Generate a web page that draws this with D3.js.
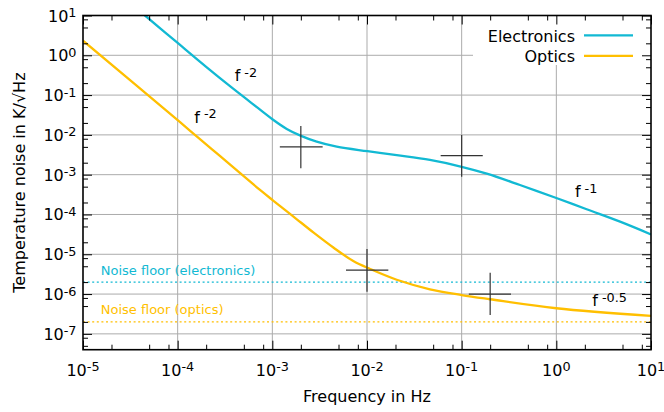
<!DOCTYPE html>
<html><head><meta charset="utf-8">
<script src="https://cdn.jsdelivr.net/npm/d3@7"></script>
<style>html,body{margin:0;padding:0;background:#fff}svg{display:block;font-family:"DejaVu Sans",sans-serif}</style>
</head><body><svg id="c" width="664" height="412"></svg>
<script>
// ---- data ----
const xMajor = [1e-5, 1e-4, 1e-3, 1e-2, 1e-1, 1e0, 1e1];
const xExp = ["-5", "-4", "-3", "-2", "-1", "0", "1"];
const yMajor = [1e-7, 1e-6, 1e-5, 1e-4, 1e-3, 1e-2, 1e-1, 1e0, 1e1];
const yExp = ["-7", "-6", "-5", "-4", "-3", "-2", "-1", "0", "1"];
const minorMult = [2, 5, 8];

const elecFreq = [3.5e-5, 4.52e-5, 1e-4, 2.0e-4, 3.57e-4, 5.81e-4, 1.01e-3, 1.42e-3, 2.01e-3, 2.94e-3, 4.79e-3, 1.01e-2, 2.06e-2, 4.62e-2, 0.1, 0.184, 0.413, 1.0, 2.09, 4.71, 10];
const elecVal  = [16.7, 10, 2.04, 0.513, 0.168, 0.0679, 0.0243, 0.0141, 9.44e-3, 6.76e-3, 5.06e-3, 3.89e-3, 3.09e-3, 2.34e-3, 1.58e-3, 1.06e-3, 5.5e-4, 2.6e-4, 1.35e-4, 6.6e-5, 3.16e-5];

const optFreq = [1e-5, 1.06e-4, 1.72e-4, 7.41e-4, 1.02e-3, 1.66e-3, 2.71e-3, 4.41e-3, 7.16e-3, 1.08e-2, 2.06e-2, 4.62e-2, 0.1, 0.199, 1.0, 10];
const optVal  = [2.33, 0.0208, 7.85e-3, 4.13e-4, 2.24e-4, 9.0e-5, 3.55e-5, 1.48e-5, 6.76e-6, 4.27e-6, 2.29e-6, 1.32e-6, 9.44e-7, 7.41e-7, 4.4e-7, 2.82e-7];

const floorElec = 2e-6;
const floorOpt = 2e-7;

// crosshair measurement points: centre f, f low/high, T, T low/high
const errF   = [2e-3, 0.1, 0.01, 0.2];
const errFlo = [1.2e-3, 0.06, 6e-3, 0.119];
const errFhi = [3.4e-3, 0.167, 1.68e-2, 0.332];
const errT   = [5e-3, 3e-3, 4e-6, 1e-6];
const errTlo = [1.45e-3, 8.9e-4, 1.15e-6, 3.0e-7];
const errThi = [1.68e-2, 1e-2, 1.36e-5, 3.45e-6];

// slope annotations
const annF   = [4e-4, 1.5e-4, 1.57, 2.4];
const annT   = [0.22, 0.02, 2.7e-4, 5.0e-7];
const annExp = ["-2", "-2", "-1", "-0.5"];

const floorLabels = ["Noise floor (electronics)", "Noise floor (optics)"];
const floorLabelF = 1.54e-5;
const floorLabelT = [3.0e-6, 3.1e-7];

const seriesNames = ["Electronics", "Optics"];
const CYAN = "#12b9d3", GOLD = "#ffbf00";

// ---- chart ----
const svg = d3.select("#c");
const L = 83, R = 651, T = 15.5, B = 349.7;
const x = d3.scaleLog().domain([1e-5, 10]).range([L, R]);
const y = d3.scaleLog().domain([4e-8, 10]).range([B, T]);

const minors = (majors) => {
  const out = [];
  majors.forEach(m => minorMult.forEach(k => out.push(m * k)));
  return out;
};
const xMin = minors(xMajor).filter(v => v > 1e-5 && v < 10);
const yMin = minors([1e-8].concat(yMajor)).filter(v => v > 4e-8 && v < 10);

// grid
const grid = svg.append("g").attr("stroke", "#ababab").attr("stroke-width", 1);
grid.selectAll("line.gx").data(xMajor.slice(1, -1)).join("line")
  .attr("x1", d => x(d)).attr("x2", d => x(d)).attr("y1", T).attr("y2", B);
grid.selectAll("line.gy").data(yMajor.slice(0, -1)).join("line")
  .attr("x1", L).attr("x2", R).attr("y1", d => y(d)).attr("y2", d => y(d));

// legend background box (covers grid)
svg.append("rect").attr("x", 473).attr("y", T).attr("width", R - 473).attr("height", 65 - T).attr("fill", "#fff");

// clip
svg.append("clipPath").attr("id", "clip").append("rect").attr("x", L).attr("y", T).attr("width", R - L).attr("height", B - T);
const plot = svg.append("g").attr("clip-path", "url(#clip)");

// noise floors
[[floorElec, CYAN], [floorOpt, GOLD]].forEach(([v, c]) => {
  plot.append("line").attr("x1", L).attr("x2", R).attr("y1", y(v)).attr("y2", y(v))
    .attr("stroke", c).attr("stroke-width", 1.4).attr("stroke-dasharray", "2,2.6");
});

const line = d3.line().x(d => x(d[0])).y(d => y(d[1])).curve(d3.curveCatmullRom.alpha(0.5));
plot.append("path").datum(elecFreq.map((f, i) => [f, elecVal[i]]))
  .attr("d", line).attr("fill", "none").attr("stroke", CYAN).attr("stroke-width", 2.3);
plot.append("path").datum(optFreq.map((f, i) => [f, optVal[i]]))
  .attr("d", line).attr("fill", "none").attr("stroke", GOLD).attr("stroke-width", 2.3);

// crosshairs
const eg = plot.append("g").attr("stroke", "#333").attr("stroke-width", 1.2);
errF.forEach((f, i) => {
  eg.append("line").attr("x1", x(errFlo[i])).attr("x2", x(errFhi[i])).attr("y1", y(errT[i])).attr("y2", y(errT[i]));
  eg.append("line").attr("x1", x(f)).attr("x2", x(f)).attr("y1", y(errTlo[i])).attr("y2", y(errThi[i]));
});

// axes ticks (inward, mirrored)
function styleAxis(g) {
  g.select(".domain").remove();
  g.selectAll(".tick line").attr("stroke", "#000").attr("stroke-width", 1);
  g.selectAll(".tick text").remove();
}
const MAJ = 9, MIN = 5;
svg.append("g").attr("transform", `translate(0,${B})`).call(d3.axisBottom(x).tickValues(xMajor).tickSize(-MAJ)).call(styleAxis);
svg.append("g").attr("transform", `translate(0,${B})`).call(d3.axisBottom(x).tickValues(xMin).tickSize(-MIN)).call(styleAxis);
svg.append("g").attr("transform", `translate(0,${T})`).call(d3.axisTop(x).tickValues(xMajor).tickSize(-MAJ)).call(styleAxis);
svg.append("g").attr("transform", `translate(0,${T})`).call(d3.axisTop(x).tickValues(xMin).tickSize(-MIN)).call(styleAxis);
svg.append("g").attr("transform", `translate(${L},0)`).call(d3.axisLeft(y).tickValues(yMajor).tickSize(-MAJ)).call(styleAxis);
svg.append("g").attr("transform", `translate(${L},0)`).call(d3.axisLeft(y).tickValues(yMin).tickSize(-MIN)).call(styleAxis);
svg.append("g").attr("transform", `translate(${R},0)`).call(d3.axisRight(y).tickValues(yMajor).tickSize(-MAJ)).call(styleAxis);
svg.append("g").attr("transform", `translate(${R},0)`).call(d3.axisRight(y).tickValues(yMin).tickSize(-MIN)).call(styleAxis);

// frame
svg.append("rect").attr("x", L).attr("y", T).attr("width", R - L).attr("height", B - T)
  .attr("fill", "none").attr("stroke", "#000").attr("stroke-width", 1.6);

// tick labels
const SUP = 12.8, SUPDY = -4.5;
function powLabel(sel, exp) {
  sel.append("tspan").text("10");
  sel.append("tspan").attr("dy", SUPDY).attr("font-size", SUP).text(exp);
}
xMajor.forEach((v, i) => {
  svg.append("text").attr("x", x(v)).attr("y", 375.5).attr("text-anchor", "middle")
    .attr("font-size", 16).attr("fill", "#000").call(powLabel, xExp[i]);
});
yMajor.forEach((v, i) => {
  svg.append("text").attr("x", 76.5).attr("y", y(v) + 6).attr("text-anchor", "end")
    .attr("font-size", 16).attr("fill", "#000").call(powLabel, yExp[i]);
});

// axis titles
svg.append("text").attr("x", (L + R) / 2).attr("y", 401.5).attr("text-anchor", "middle")
  .attr("font-size", 16).text("Frequency in Hz");
svg.append("text").attr("transform", `translate(25,${(T + B) / 2}) rotate(-90)`).attr("text-anchor", "middle")
  .attr("font-size", 16).text("Temperature noise in K/√Hz");

// slope annotations
annF.forEach((f, i) => {
  const t = svg.append("text").attr("x", x(f)).attr("y", y(annT[i])).attr("font-size", 16).attr("fill", "#000");
  t.append("tspan").text("f");
  t.append("tspan").attr("dx", 4).attr("dy", SUPDY).attr("font-size", SUP).text(annExp[i]);
});

// noise floor labels
floorLabels.forEach((s, i) => {
  svg.append("text").attr("x", x(floorLabelF)).attr("y", y(floorLabelT[i])).attr("font-size", 13)
    .attr("fill", i === 0 ? CYAN : GOLD).text(s);
});

// legend
[CYAN, GOLD].forEach((c, i) => {
  svg.append("text").attr("x", 575).attr("y", 41.5 + i * 20.6).attr("text-anchor", "end")
    .attr("font-size", 16).attr("fill", "#000").text(seriesNames[i]);
  svg.append("line").attr("x1", 584).attr("x2", 633).attr("y1", 35.3 + i * 20.6).attr("y2", 35.3 + i * 20.6)
    .attr("stroke", c).attr("stroke-width", 2.2);
});
</script></body></html>
